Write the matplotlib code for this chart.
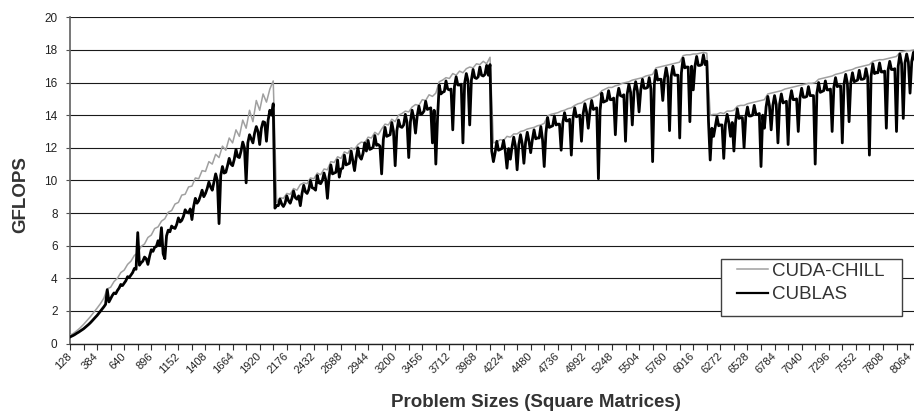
import matplotlib
matplotlib.use("Agg")
import matplotlib.pyplot as plt
from matplotlib.ticker import FixedLocator
from matplotlib.patches import Rectangle

plt.rcParams['font.family'] = ['Liberation Sans', 'DejaVu Sans']

# Problem sizes (square matrices): samples at 128, 160, ... and at 144, 176, ...
sizes_a = list(range(128, 8161, 32))
sizes_b = list(range(144, 8177, 32))

# CUBLAS GFLOPS (black), at sizes_a
cublas_a1 = [0.40, 0.50, 0.63, 0.76, 0.90, 1.08, 1.27, 1.50, 1.72, 1.99,
             2.25, 3.30, 2.75, 3.10, 3.25, 3.62, 3.70, 4.10, 4.20, 4.60,
             6.80, 4.95, 5.30, 4.85, 5.75, 5.90, 6.30, 7.10, 5.20, 6.95,
             7.20, 7.05, 7.70, 7.55, 8.20, 8.00, 7.60, 8.90, 8.75, 9.40,
             9.20, 9.90, 9.40, 10.40, 7.35, 10.85, 10.50, 11.35, 10.90, 11.90,
             11.40, 12.35, 9.85, 12.80, 12.30, 13.30, 12.20, 13.60, 12.40, 14.30,
             14.70]
cublas_a2 = [8.45, 8.85, 8.40, 9.05, 8.60, 9.35, 8.85, 8.45, 9.70, 9.20,
             10.00, 9.50, 10.30, 9.80, 10.45, 8.90, 10.95, 10.45, 11.25, 10.70,
             11.55, 11.00, 11.80, 10.60, 12.00, 11.30, 12.30, 12.45, 11.95, 12.75,
             12.20, 10.40, 13.25, 12.75, 13.55, 10.90, 13.70, 13.25, 14.05, 11.40,
             14.30, 12.90, 14.55, 14.10, 14.85, 14.40, 12.30, 11.00, 15.85, 15.40,
             16.10, 15.55, 13.10, 16.35, 15.85, 12.30, 16.55, 13.40, 16.80, 16.25,
             16.95, 16.40, 17.05, 17.10]
cublas_a3 = [11.15, 12.40, 11.90, 12.45, 10.75, 11.30, 12.65, 10.65, 12.80, 11.05,
             12.95, 11.70, 13.10, 12.60, 13.30, 10.85, 13.85, 13.30, 13.95, 13.45,
             11.85, 14.15, 13.65, 11.55, 14.45, 13.95, 12.40, 14.70, 13.20, 14.90,
             14.40, 10.10, 15.35, 14.85, 15.50, 14.95, 12.80, 15.65, 15.15, 12.40,
             15.90, 13.40, 16.05, 14.20, 16.20, 15.65, 16.30, 11.15, 16.75, 16.20,
             14.90, 16.90, 13.05, 17.00, 16.45, 12.60, 17.50, 16.95, 13.60, 15.55,
             17.60, 17.05, 17.70, 17.30]
cublas_a4 = [11.25, 12.70, 13.90, 13.40, 11.35, 14.05, 12.70, 11.80, 14.40, 13.85,
             12.00, 14.50, 13.95, 14.60, 14.05, 10.85, 13.20, 15.15, 13.10, 15.20,
             12.30, 15.30, 14.80, 12.20, 15.50, 14.95, 13.00, 15.65, 15.10, 15.75,
             15.20, 11.00, 16.00, 15.45, 16.10, 15.55, 13.00, 16.30, 15.80, 12.30,
             16.50, 13.60, 16.60, 16.10, 16.75, 16.20, 16.85, 11.55, 17.15, 16.60,
             17.20, 16.65, 13.20, 17.30, 16.80, 13.00, 17.75, 13.80, 17.75, 15.35,
             17.85, 17.30, 17.90]

# CUBLAS GFLOPS (black), at sizes_b
cublas_b1 = [0.45, 0.56, 0.69, 0.83, 0.99, 1.17, 1.38, 1.61, 1.85, 2.12,
             2.40, 2.55, 2.95, 3.05, 3.40, 3.55, 3.85, 4.05, 4.35, 4.55,
             4.80, 5.05, 5.20, 5.35, 5.65, 5.95, 6.00, 5.50, 6.60, 6.85,
             7.10, 7.30, 7.45, 7.80, 8.05, 8.25, 8.40, 8.60, 9.05, 9.00,
             9.50, 9.60, 9.90, 10.00, 10.30, 10.45, 10.90, 11.00, 11.30, 11.45,
             11.80, 12.00, 12.30, 12.55, 12.90, 13.00, 13.20, 13.55, 13.70, 14.00]
cublas_b2 = [8.30, 8.45, 8.55, 8.60, 8.75, 8.90, 8.95, 9.05, 9.20, 9.30,
             9.45, 9.55, 9.40, 9.85, 10.00, 10.05, 10.25, 10.40, 10.50, 10.20,
             10.75, 10.95, 11.05, 11.20, 11.40, 11.45, 11.65, 11.80, 11.90, 12.05,
             12.15, 12.10, 12.50, 12.70, 12.80, 13.00, 13.05, 13.30, 13.40, 13.55,
             13.60, 13.80, 13.95, 14.05, 14.25, 14.35, 14.45, 14.30, 13.80, 15.30,
             15.45, 15.60, 15.60, 15.75, 15.85, 15.90, 15.95, 16.10, 16.15, 16.30,
             16.35, 16.45, 16.50, 16.45]
cublas_b3 = [11.80, 11.70, 11.85, 11.95, 11.80, 11.95, 12.05, 12.10, 12.20, 12.25,
             12.35, 12.40, 12.50, 12.55, 12.60, 12.50, 12.90, 13.25, 13.35, 13.40,
             13.45, 13.55, 13.65, 13.75, 13.80, 13.90, 14.00, 14.10, 14.20, 14.25,
             14.35, 14.45, 14.30, 14.80, 14.90, 14.95, 15.05, 15.05, 15.20, 15.25,
             15.30, 15.40, 15.45, 15.50, 15.55, 15.65, 15.70, 15.60, 15.90, 16.15,
             16.20, 16.25, 16.30, 16.40, 16.45, 16.45, 16.60, 16.90, 16.95, 17.00,
             17.00, 17.05, 17.10, 17.10]
cublas_b4 = [13.60, 13.20, 13.30, 13.35, 13.40, 13.45, 13.55, 13.55, 13.60, 13.80,
             13.85, 13.90, 13.95, 14.00, 14.05, 14.10, 14.00, 14.50, 14.55, 14.60,
             14.65, 14.70, 14.75, 14.85, 14.90, 14.95, 15.00, 15.05, 15.10, 15.15,
             15.20, 15.20, 15.35, 15.40, 15.50, 15.55, 15.60, 15.70, 15.75, 15.80,
             15.90, 15.95, 16.00, 16.05, 16.15, 16.20, 16.25, 16.30, 16.40, 16.55,
             16.60, 16.65, 16.70, 16.75, 16.80, 16.85, 17.00, 17.15, 17.20, 17.25,
             17.30, 17.35, 17.40, 17.40]

# CUDA-CHILL GFLOPS (gray), at sizes_a
chill_p1 = [0.50, 0.62, 0.78, 0.96, 1.17, 1.40, 1.64, 1.90, 2.17, 2.45,
            2.78, 3.35, 3.45, 3.80, 4.00, 4.35, 4.50, 4.85, 5.05, 5.40,
            5.55, 5.95, 6.10, 6.50, 6.65, 7.05, 7.15, 7.50, 7.65, 8.05,
            8.15, 8.55, 8.65, 9.10, 9.15, 9.60, 9.65, 10.15, 10.10, 10.60,
            10.55, 11.15, 11.00, 11.60, 11.40, 12.10, 11.85, 12.60, 12.30, 13.10,
            12.70, 13.70, 13.20, 14.30, 13.60, 14.90, 14.30, 15.30, 14.80, 15.60,
            16.10]
chill_p2 = [8.65, 8.95, 8.90, 9.20, 9.15, 9.50, 9.40, 9.75, 9.85, 9.80,
            10.15, 10.10, 10.45, 10.35, 10.70, 10.65, 11.15, 11.10, 11.45, 11.35,
            11.75, 11.65, 12.00, 11.90, 12.20, 12.35, 12.30, 12.65, 12.60, 12.95,
            12.80, 13.15, 13.45, 13.40, 13.75, 13.60, 14.00, 14.10, 14.25, 14.20,
            14.50, 14.65, 14.60, 14.95, 14.90, 15.25, 15.15, 15.35, 16.05, 16.15,
            16.30, 16.25, 16.55, 16.45, 16.70, 16.60, 16.85, 16.95, 16.90, 17.15,
            17.10, 17.30, 17.15, 17.55]
chill_p3 = [12.30, 12.35, 12.50, 12.45, 12.70, 12.65, 12.85, 12.85, 13.00, 13.05,
            13.15, 13.20, 13.25, 13.35, 13.40, 13.50, 13.95, 14.05, 14.10, 14.15,
            14.25, 14.30, 14.40, 14.45, 14.60, 14.70, 14.75, 14.90, 15.00, 15.05,
            15.15, 15.25, 15.50, 15.60, 15.70, 15.70, 15.80, 15.85, 15.95, 16.00,
            16.05, 16.15, 16.20, 16.25, 16.30, 16.40, 16.45, 16.50, 16.90, 16.95,
            17.00, 17.05, 17.10, 17.15, 17.20, 17.25, 17.65, 17.70, 17.70, 17.75,
            17.75, 17.80, 17.85, 17.80]
chill_p4 = [14.00, 14.05, 14.05, 14.15, 14.10, 14.25, 14.25, 14.30, 14.55, 14.60,
            14.60, 14.70, 14.75, 14.80, 14.85, 14.90, 14.95, 15.30, 15.35, 15.40,
            15.45, 15.50, 15.60, 15.65, 15.70, 15.75, 15.80, 15.85, 15.90, 15.95,
            15.95, 16.00, 16.20, 16.25, 16.30, 16.35, 16.40, 16.50, 16.55, 16.60,
            16.70, 16.75, 16.80, 16.90, 16.95, 17.00, 17.05, 17.10, 17.30, 17.35,
            17.40, 17.40, 17.45, 17.50, 17.55, 17.60, 17.85, 17.90, 17.95, 17.95,
            18.00, 18.05, 18.05]

cublas_a = cublas_a1 + cublas_a2 + cublas_a3 + cublas_a4
cublas_b = cublas_b1 + cublas_b2 + cublas_b3 + cublas_b4
cublas_pts = sorted(zip(sizes_a + sizes_b, cublas_a + cublas_b))
cublas_x = [p[0] for p in cublas_pts]
cublas_y = [p[1] for p in cublas_pts]
cuda_chill = chill_p1 + chill_p2 + chill_p3 + chill_p4

xtick_labels = [str(v) for v in range(128, 8065, 256)]
ytick_vals = list(range(0, 21, 2))

W, H = 914, 412
fig = plt.figure(figsize=(W / 100, H / 100), dpi=100)
ax_l, ax_r, ax_b, ax_t = 70, 923.6, 343.5, 17.3
ax = fig.add_axes([ax_l / W, 1 - ax_b / H, (ax_r - ax_l) / W, (ax_b - ax_t) / H])

ax.plot(sizes_a, cuda_chill, color='#a0a0a0', lw=1.1, label='CUDA-CHILL', zorder=3)
ax.plot(cublas_x, cublas_y, color='#000000', lw=2.0, label='CUBLAS', zorder=4)

ax.set_xlim(128, 8192)
ax.set_ylim(0, 20)

ax.set_xticks([int(s) for s in xtick_labels])
ax.set_xticklabels(xtick_labels, rotation=45, ha='right', va='center',
                   rotation_mode='anchor', fontsize=8, color='#222222')
ax.xaxis.set_minor_locator(FixedLocator([int(s) + 128 for s in xtick_labels]))
ax.tick_params(axis='x', which='both', direction='out', length=4, width=0.8,
               color='#303030', pad=4)
ax.set_yticks(ytick_vals)
ax.set_yticklabels([str(v) for v in ytick_vals], fontsize=8.5, color='#222222')
ax.tick_params(axis='y', direction='out', length=3, width=0.8, color='#505050', pad=6)

ax.grid(axis='y', color='#1a1a1a', lw=0.8, zorder=1)
ax.set_axisbelow(True)
for s in ['top', 'right']:
    ax.spines[s].set_visible(False)
ax.spines['left'].set_color('#606060')
ax.spines['left'].set_linewidth(1.2)
ax.spines['bottom'].set_color('#202020')
ax.spines['bottom'].set_linewidth(1.0)

ax.set_ylabel('GFLOPS', fontsize=13.5, fontweight='bold', color='#333333')
ax.yaxis.set_label_coords((29 - ax_l) / (ax_r - ax_l), (ax_b - 195) / (ax_b - ax_t))
ax.set_xlabel('Problem Sizes (Square Matrices)', fontsize=13.5, fontweight='bold',
              color='#333333')
ax.xaxis.set_label_coords((536 - ax_l) / (ax_r - ax_l), (ax_b - 394) / (ax_b - ax_t))

# legend: box drawn separately, entries placed inside it
leg_x0, leg_x1, leg_y0, leg_y1 = 720.7, 901.7, 259.3, 316
ax.add_patch(Rectangle((leg_x0 / W, 1 - leg_y1 / H),
                       (leg_x1 - leg_x0) / W, (leg_y1 - leg_y0) / H,
                       transform=fig.transFigure, facecolor='white',
                       edgecolor='#404040', lw=1.0, zorder=5, clip_on=False))
leg = ax.legend(loc='upper left', bbox_to_anchor=(736.7 / W, 1 - 262.5 / H),
                bbox_transform=fig.transFigure, fontsize=13.5, frameon=False,
                borderpad=0, labelspacing=0.35, handlelength=1.69,
                handletextpad=0.18, borderaxespad=0)
leg.set_zorder(6)
for t in leg.get_texts():
    t.set_color('#333333')
for h in leg.legend_handles:
    h.set_linewidth(1.6 if h.get_label() == 'CUBLAS' else 1.1)

fig.savefig('out.png', dpi=100)
